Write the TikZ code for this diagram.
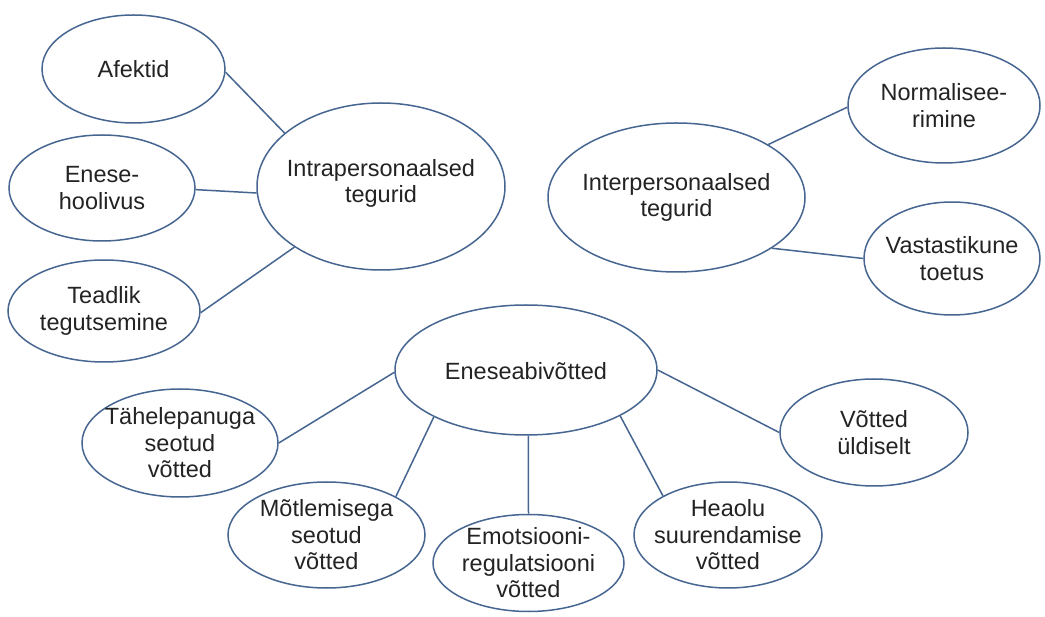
\documentclass[tikz,border=0pt]{standalone}
\usepackage{fontspec}
\setmainfont{Liberation Sans}
\usetikzlibrary{shapes.geometric}
\definecolor{edgeblue}{RGB}{70,102,145}
\definecolor{txtgray}{RGB}{35,35,35}
\tikzset{
  el/.style={ellipse, draw=edgeblue, line width=1.5pt, inner sep=0pt, fill=white},
  txt/.style={align=center, text=txtgray, font=\fontsize{23.5}{26.5}\selectfont, inner sep=0pt},
  conn/.style={draw=edgeblue, line width=1.5pt}
}
\begin{document}
\begin{tikzpicture}[x=1pt,y=-1pt]
\useasboundingbox[fill=white] (0,0) rectangle (1045,617);
% ellipses
\node[el, minimum width=183pt, minimum height=108pt] (afe) at (133.5,69) {};
\node[el, minimum width=186pt, minimum height=106pt] (hool) at (102,188) {};
\node[el, minimum width=192pt, minimum height=102pt] (tead) at (104,311) {};
\node[el, minimum width=248pt, minimum height=167pt] (intra) at (381,186.5) {};
\node[el, minimum width=257pt, minimum height=149pt] (inter) at (676.5,197.5) {};
\node[el, minimum width=192pt, minimum height=115pt] (norm) at (944,105.5) {};
\node[el, minimum width=176pt, minimum height=113pt] (vast) at (952,258.5) {};
\node[el, minimum width=262pt, minimum height=130pt] (abi) at (526,370) {};
\node[el, minimum width=196pt, minimum height=108pt] (tahe) at (180,443) {};
\node[el, minimum width=197pt, minimum height=106pt] (mot) at (326.5,535) {};
\node[el, minimum width=191pt, minimum height=97pt] (emo) at (528.5,563) {};
\node[el, minimum width=188pt, minimum height=106pt] (hea) at (728,535) {};
\node[el, minimum width=188pt, minimum height=107pt] (uld) at (874,432.5) {};
% texts
\node[txt] (tafe) at (afe) {Afektid};
\node[txt] (thool) at (hool) {Enese-\\hoolivus};
\node[txt] (ttead) at (tead) {Teadlik\\tegutsemine};
\node[txt] (tintra) at ([yshift=3pt]intra.center) {Intrapersonaalsed\\tegurid};
\node[txt] (tinter) at (inter) {Interpersonaalsed\\tegurid};
\node[txt] (tnorm) at (norm) {Normalisee-\\rimine};
\node[txt] (tvast) at (vast) {Vastastikune\\toetus};
\node[txt] (tabi) at ([yshift=-1pt]abi.center) {Eneseabivõtted};
\node[txt] (ttahe) at (tahe) {Tähelepanuga\\seotud\\võtted};
\node[txt] (tmot) at (mot) {Mõtlemisega\\seotud\\võtted};
\node[txt] (temo) at (emo) {Emotsiooni-\\regulatsiooni\\võtted};
\node[txt] (thea) at (hea) {Heaolu\\suurendamise\\võtted};
\node[txt] (tuld) at (uld) {Võtted\\üldiselt};
% connectors
\draw[conn] (afe.-2) -- (intra.151);
\draw[conn] (hool.-1) -- (intra.183);
\draw[conn] (tead.-1) -- (intra.215.5);
\draw[conn] (inter.30.8) -- (norm.181);
\draw[conn] (inter.-28.4) -- (vast.180);
\draw[conn] (abi.181) -- (tahe.0);
\draw[conn] (abi.207.8) -- (mot.29.6);
\draw[conn] (abi.272) -- (emo.90);
\draw[conn] (abi.-26.6) -- (hea.149.5);
\draw[conn] (abi.0) -- (uld.180);
\end{tikzpicture}
\end{document}
